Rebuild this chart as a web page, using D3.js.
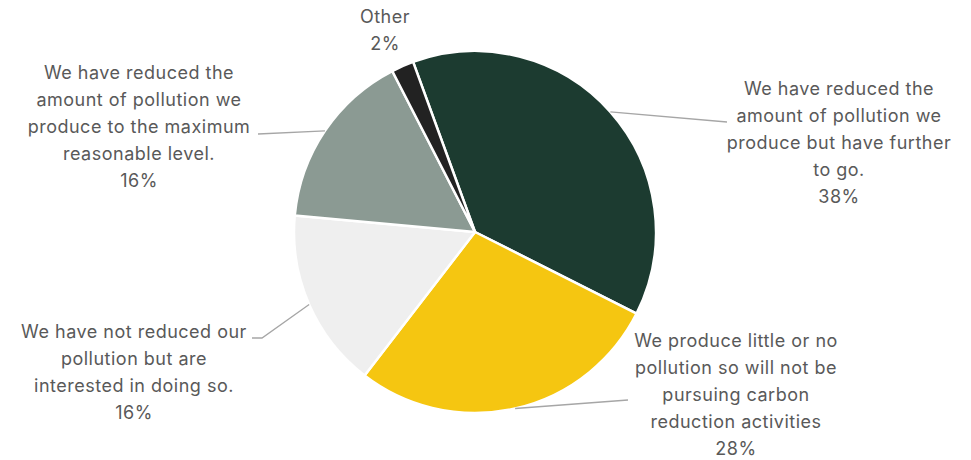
<!DOCTYPE html>
<meta charset="utf-8">
<style>
body {
  margin: 0;
  background-color: #ffffff;
}
.label {
  font-family: "Inter", sans-serif;
  font-size: 18px;
  letter-spacing: 0.5px;
  fill: #595959;
  text-anchor: middle;
}
.leader {
  fill: none;
  stroke: #a6a6a6;
  stroke-width: 1.3;
}
</style>
<body>
<svg width="971" height="460"></svg>
<script src="https://d3js.org/d3.v7.min.js"></script>
<script>

// data
var categories = [
  "We have reduced the amount of pollution we produce but have further to go.",
  "We produce little or no pollution so will not be pursuing carbon reduction activities",
  "We have not reduced our pollution but are interested in doing so.",
  "We have reduced the amount of pollution we produce to the maximum reasonable level.",
  "Other"
];
var values = [38, 28, 16, 16, 2];
var labelLines = [
  ["We have reduced the", "amount of pollution we", "produce but have further", "to go."],
  ["We produce little or no", "pollution so will not be", "pursuing carbon", "reduction activities"],
  ["We have not reduced our", "pollution but are", "interested in doing so."],
  ["We have reduced the", "amount of pollution we", "produce to the maximum", "reasonable level."],
  ["Other"]
];
var colors = ["#1c3b30", "#f5c611", "#efefef", "#8b9a93", "#222222"];

// label layout (centre x, first baseline y, leader end)
var labelPos = [
  {x: 839, y: 95, end: [[727, 122]]},
  {x: 736, y: 347, end: [[628, 400]]},
  {x: 134, y: 338, end: [[262, 338], [252, 338]]},
  {x: 139, y: 79, end: [[258, 134]]},
  {x: 385, y: 23, end: null}
];

var svg = d3.select("svg"),
    cx = 475, cy = 232, radius = 181,
    g = svg.append("g").attr("transform", "translate(" + cx + "," + cy + ")");

var pie = d3.pie()
    .sort(null)
    .value(function(d) { return d; })
    .startAngle(-20 * Math.PI / 180)
    .endAngle(340 * Math.PI / 180);

var arc = d3.arc().innerRadius(0).outerRadius(radius);

var arcs = pie(values);

g.selectAll(".slice")
  .data(arcs)
  .enter().append("path")
    .attr("class", "slice")
    .attr("d", arc)
    .attr("fill", function(d, i) { return colors[i]; })
    .attr("stroke", "#ffffff")
    .attr("stroke-width", 2.5)
    .attr("stroke-linejoin", "round");

// leader lines
arcs.forEach(function(d, i) {
  var p = labelPos[i];
  if (!p.end) return;
  var mid = (d.startAngle + d.endAngle) / 2;
  var pts = [[cx + radius * Math.sin(mid), cy - radius * Math.cos(mid)]].concat(p.end);
  svg.append("path")
    .attr("class", "leader")
    .attr("d", d3.line()(pts));
});

// labels
var lineH = 27;
arcs.forEach(function(d, i) {
  var p = labelPos[i];
  var t = svg.append("text").attr("class", "label");
  var lines = labelLines[i].concat([values[i] + "%"]);
  lines.forEach(function(s, j) {
    t.append("tspan")
      .attr("x", p.x)
      .attr("y", p.y + j * lineH)
      .text(s);
  });
});

</script>
</body>
